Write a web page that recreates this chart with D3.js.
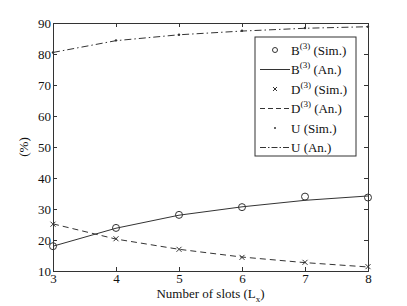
<!DOCTYPE html>
<html>
<head>
<meta charset="utf-8">
<script src="https://cdn.jsdelivr.net/npm/d3@7"></script>
<style>
  body { margin: 0; background: #fff; }
  text { font-family: "Liberation Serif", "Times New Roman", serif; fill: #111; }
</style>
</head>
<body>
<div id="chart"></div>
<script>
// slots on the x axis
var slots = [3, 4, 5, 6, 7, 8];

// simulated and analytical values (%)
var bSim = [18.0, 23.9, 28.1, 30.6, 34.0, 33.7];
var bAn  = [18.0, 23.8, 28.0, 30.7, 32.8, 34.2];
var dSim = [25.1, 20.4, 17.0, 14.4, 12.8, 11.4];
var dAn  = [25.2, 20.3, 17.0, 14.5, 12.7, 11.3];
var uSim = [80.5, 84.4, 86.2, 87.5, 88.4, 88.8];
var uAn  = [80.5, 84.3, 86.2, 87.4, 88.3, 88.8];

var yTicks = [10, 20, 30, 40, 50, 60, 70, 80, 90];

var margin = {top: 23, right: 39, bottom: 35, left: 53},
    width = 407 - margin.left - margin.right,
    height = 306 - margin.top - margin.bottom;

var svg = d3.select("#chart")
  .append("svg")
    .attr("width", 407)
    .attr("height", 306)
  .append("g")
    .attr("transform", "translate(" + margin.left + "," + margin.top + ")");

var x = d3.scaleLinear().domain([3, 8]).range([0, width]);
var y = d3.scaleLinear().domain([10, 90]).range([height, 0]);

var axisColor = "#333";

// box with inward ticks on all sides
svg.append("g")
    .attr("transform", "translate(0," + height + ")")
    .call(d3.axisBottom(x).tickValues(slots).tickSize(-4).tickPadding(3).tickFormat(d3.format("d")))
    .call(function(g) { g.selectAll("text").attr("font-size", 13); });
svg.append("g")
    .call(d3.axisTop(x).tickValues(slots).tickSize(-4).tickFormat(""));
svg.append("g")
    .call(d3.axisLeft(y).tickValues(yTicks).tickSize(-4).tickPadding(2))
    .call(function(g) { g.selectAll("text").attr("font-size", 13); });
svg.append("g")
    .attr("transform", "translate(" + width + ",0)")
    .call(d3.axisRight(y).tickValues(yTicks).tickSize(-4).tickFormat(""));
svg.selectAll(".domain").attr("stroke", axisColor);
svg.selectAll(".tick line").attr("stroke", axisColor);
svg.selectAll(".tick text").attr("fill", "#111").attr("font-family", "Liberation Serif");

// axis labels
svg.append("text")
    .attr("transform", "translate(-25," + (height / 2) + ") rotate(-90)")
    .attr("text-anchor", "middle")
    .attr("font-size", 13)
    .text("(%)");

var xl = svg.append("text")
    .attr("x", width / 2)
    .attr("y", height + 27)
    .attr("text-anchor", "middle")
    .attr("font-size", 13);
xl.append("tspan").text("Number of slots (L");
xl.append("tspan").attr("font-size", 9).attr("dy", 4).text("x");
xl.append("tspan").attr("dy", -4).text(")");

function pts(vals) {
  return vals.map(function(v, i) { return [slots[i], v]; });
}

var line = d3.line()
    .x(function(d) { return x(d[0]); })
    .y(function(d) { return y(d[1]); });

var lineColor = "#333";

svg.append("path").datum(pts(bAn))
    .attr("fill", "none").attr("stroke", lineColor).attr("stroke-width", 1)
    .attr("d", line);
svg.append("path").datum(pts(dAn))
    .attr("fill", "none").attr("stroke", lineColor).attr("stroke-width", 1)
    .attr("stroke-dasharray", "6,4")
    .attr("d", line);
svg.append("path").datum(pts(uAn))
    .attr("fill", "none").attr("stroke", lineColor).attr("stroke-width", 1)
    .attr("stroke-dasharray", "7,3,1.5,3")
    .attr("d", line);

// markers
svg.selectAll(".bsim").data(pts(bSim)).enter().append("circle")
    .attr("cx", function(d) { return x(d[0]); })
    .attr("cy", function(d) { return y(d[1]); })
    .attr("r", 3.5)
    .attr("fill", "none").attr("stroke", lineColor).attr("stroke-width", 1);

svg.selectAll(".dsim").data(pts(dSim)).enter().append("path")
    .attr("transform", function(d) { return "translate(" + x(d[0]) + "," + y(d[1]) + ")"; })
    .attr("d", "M-2.5,-2.5L2.5,2.5M-2.5,2.5L2.5,-2.5")
    .attr("stroke", lineColor).attr("stroke-width", 1);

svg.selectAll(".usim").data(pts(uSim)).enter().append("circle")
    .attr("cx", function(d) { return x(d[0]); })
    .attr("cy", function(d) { return y(d[1]); })
    .attr("r", 1.2)
    .attr("fill", lineColor);

// legend
var lx = 255 - margin.left, ly = 37 - margin.top;
var legend = svg.append("g").attr("transform", "translate(" + lx + "," + ly + ")");
legend.append("rect")
    .attr("width", 101).attr("height", 119)
    .attr("fill", "#fff").attr("stroke", axisColor).attr("stroke-width", 1);

var entries = [
  {main: "B", sup: "(3)", tail: " (Sim.)", kind: "circle"},
  {main: "B", sup: "(3)", tail: " (An.)", kind: "solid"},
  {main: "D", sup: "(3)", tail: " (Sim.)", kind: "cross"},
  {main: "D", sup: "(3)", tail: " (An.)", kind: "dash"},
  {main: "U", sup: "", tail: " (Sim.)", kind: "dot"},
  {main: "U", sup: "", tail: " (An.)", kind: "dashdot"}
];

entries.forEach(function(e, i) {
  var cy = 13 + i * 19.5;
  var g = legend.append("g").attr("transform", "translate(0," + cy + ")");
  var sx0 = 5, sx1 = 35, sm = 20;
  if (e.kind === "circle") {
    g.append("circle").attr("cx", sm).attr("cy", 0).attr("r", 2.5)
      .attr("fill", "none").attr("stroke", lineColor);
  } else if (e.kind === "cross") {
    g.append("path").attr("d", "M" + (sm - 2) + ",-2L" + (sm + 2) + ",2M" + (sm - 2) + ",2L" + (sm + 2) + ",-2")
      .attr("stroke", lineColor);
  } else if (e.kind === "dot") {
    g.append("circle").attr("cx", sm).attr("cy", 0).attr("r", 1).attr("fill", lineColor);
  } else {
    var l = g.append("line").attr("x1", sx0).attr("x2", sx1).attr("y1", 0).attr("y2", 0)
      .attr("stroke", lineColor);
    if (e.kind === "dash") l.attr("stroke-dasharray", "5,3");
    if (e.kind === "dashdot") l.attr("stroke-dasharray", "6,2,1.5,2");
  }
  var t = g.append("text").attr("x", 36).attr("y", 4.5).attr("font-size", 13);
  t.append("tspan").text(e.main);
  if (e.sup) {
    t.append("tspan").attr("font-size", 9).attr("dy", -6).text(e.sup);
    t.append("tspan").attr("dy", 6).text(e.tail);
  } else {
    t.append("tspan").text(e.tail);
  }
});
</script>
</body>
</html>
